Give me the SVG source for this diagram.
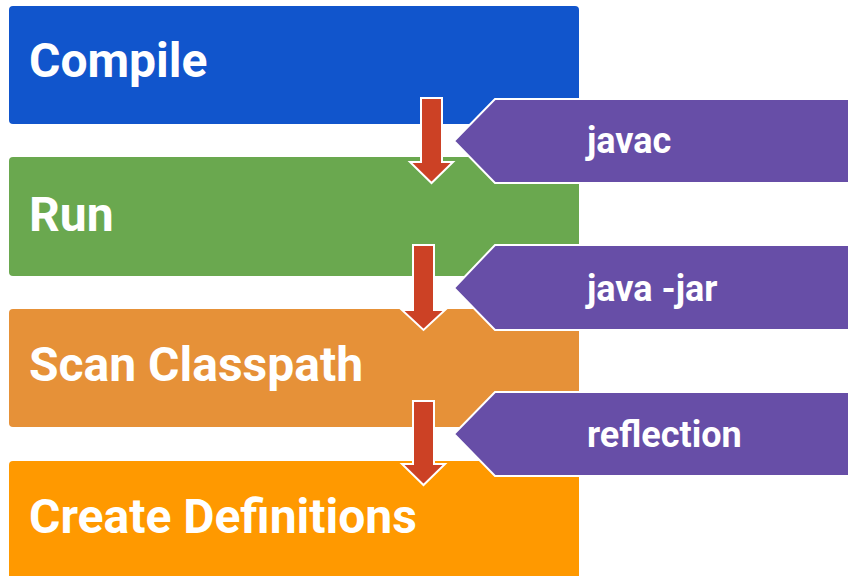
<svg xmlns="http://www.w3.org/2000/svg" width="848" height="576" viewBox="0 0 848 576">
<style>
.box{stroke:none}
.lbl{font-family:Roboto,"Liberation Sans",sans-serif;font-weight:bold;fill:#fff;font-size:48px}
.tag{fill:#674EA7;stroke:#fff;stroke-width:2;stroke-linejoin:miter}
.tagt{font-family:Roboto,"Liberation Sans",sans-serif;font-weight:bold;fill:#fff;font-size:36px}
.arr{fill:#CC4125;stroke:#fff;stroke-width:2;stroke-linejoin:miter}
</style>
<rect width="848" height="576" fill="#fff"/>
<g id="compile">
<rect class="box" x="9" y="6" width="570" height="118" rx="4" fill="#1155CC"/>
<text class="lbl" x="29" y="77">Compile</text>
</g>
<g id="run">
<rect class="box" x="9" y="157" width="570" height="119" rx="4" fill="#6AA84F"/>
<text class="lbl" x="29" y="231">Run</text>
</g>
<g id="scan">
<rect class="box" x="9" y="309" width="570" height="118" rx="4" fill="#E69138"/>
<text class="lbl" x="29" y="381">Scan Classpath</text>
</g>
<g id="create">
<rect class="box" x="9" y="461" width="570" height="125" rx="4" fill="#FF9900"/>
<text class="lbl" x="29" y="533">Create Definitions</text>
</g>
<g id="javac">
<polygon class="tag" points="454,141 495,99 849,99 849,183 495,183"/>
<text class="tagt" x="587" y="153">javac</text>
</g>
<g id="javajar">
<polygon class="tag" points="454,288 495,245 849,245 849,330 495,330"/>
<text class="tagt" x="587" y="301">java -jar</text>
</g>
<g id="reflection">
<polygon class="tag" points="454,434 495,392 849,392 849,476 495,476"/>
<text class="tagt" x="587" y="447">reflection</text>
</g>
<g id="connectors">
<polygon class="arr" points="421,98 442,98 442,162 453,162 431.5,183 410,162 421,162"/>
<polygon class="arr" points="413,245 434,245 434,310 445,310 423.5,330 402,310 413,310"/>
<polygon class="arr" points="413,401 434,401 434,464 445,464 423.5,485 402,464 413,464"/>
</g>
</svg>
